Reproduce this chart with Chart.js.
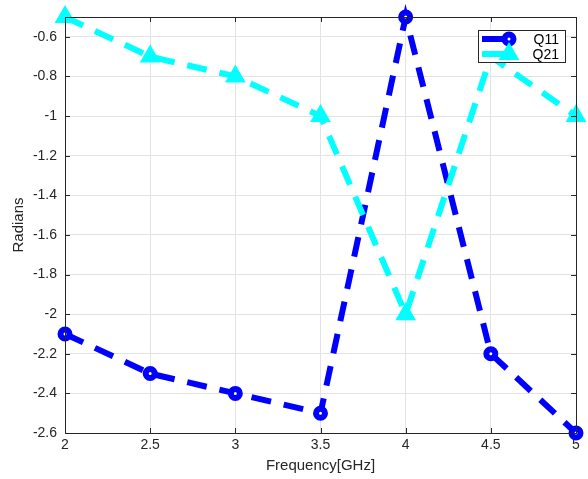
<!DOCTYPE html>
<html>
<head>
<meta charset="utf-8">
<script src="https://cdn.jsdelivr.net/npm/chart.js@4.4.0/dist/chart.umd.min.js"></script>
<style>
  html, body { margin: 0; padding: 0; background: #fff; }
  #wrap { width: 588px; height: 479px; }
</style>
</head>
<body>
<div id="wrap"><canvas id="c" width="588" height="479"></canvas></div>
<script>
// Frequencies (GHz) and phase values
const freqs = [2, 2.5, 3, 3.5, 4, 4.5, 5];
const q11 = [-2.1, -2.3, -2.4, -2.5, -0.5, -2.2, -2.6];
const q21 = [-0.5, -0.7, -0.8, -1.0, -2.0, -0.7, -1.0];

const xTicks = [2, 2.5, 3, 3.5, 4, 4.5, 5];
const yTicks = [-2.6, -2.4, -2.2, -2, -1.8, -1.6, -1.4, -1.2, -1, -0.8, -0.6];

const AXIS = '#262626';
const FONT = '"Liberation Sans", Arial, sans-serif';

function toPoints(xs, ys) {
  return xs.map((x, i) => ({ x, y: ys[i] }));
}

// Box around the plot with inward ticks on all four sides, matlab style
const boxPlugin = {
  id: 'box',
  afterDatasetsDraw(chart) {
    const { ctx, chartArea: a, scales } = chart;
    ctx.save();
    ctx.strokeStyle = AXIS;
    ctx.lineWidth = 1;
    ctx.strokeRect(a.left + 0.5, a.top + 0.5, a.right - a.left, a.bottom - a.top);
    const t = 5;
    ctx.beginPath();
    xTicks.forEach(v => {
      const px = Math.round(scales.x.getPixelForValue(v)) + 0.5;
      ctx.moveTo(px, a.bottom); ctx.lineTo(px, a.bottom - t);
      ctx.moveTo(px, a.top); ctx.lineTo(px, a.top + t);
    });
    yTicks.forEach(v => {
      const py = Math.round(scales.y.getPixelForValue(v)) + 0.5;
      ctx.moveTo(a.left, py); ctx.lineTo(a.left + t, py);
      ctx.moveTo(a.right, py); ctx.lineTo(a.right - t, py);
    });
    ctx.stroke();
    ctx.restore();
  }
};

// Legend drawn like the original: thick line segment with the marker at its end
const legendPlugin = {
  id: 'boxLegend',
  afterDraw(chart) {
    const { ctx } = chart;
    const x0 = 478, y0 = 30, w = 87, h = 32;
    ctx.save();
    ctx.fillStyle = '#fff';
    ctx.fillRect(x0, y0, w, h);
    ctx.strokeStyle = '#262626';
    ctx.lineWidth = 1;
    ctx.strokeRect(x0 + 0.5, y0 + 0.5, w, h);
    chart.data.datasets.forEach((ds, i) => {
      const y = y0 + 9 + i * 15;
      ctx.strokeStyle = ds.borderColor;
      ctx.lineWidth = 6;
      ctx.beginPath();
      ctx.moveTo(x0 + 4, y);
      ctx.lineTo(x0 + 31, y);
      ctx.stroke();
      ctx.strokeStyle = ds.pointBorderColor;
      ctx.fillStyle = ds.pointBackgroundColor;
      ctx.lineWidth = ds.pointBorderWidth;
      Chart.helpers.drawPoint(ctx, {
        pointStyle: ds.pointStyle,
        radius: ds.pointRadius,
        borderWidth: ds.pointBorderWidth,
        rotation: 0
      }, x0 + 31, y);
      ctx.fillStyle = '#000';
      ctx.font = '14px ' + FONT;
      ctx.textAlign = 'right';
      ctx.textBaseline = 'middle';
      ctx.fillText(ds.label, x0 + w - 6, y + 1);
    });
    ctx.restore();
  }
};

const chart = new Chart(document.getElementById('c'), {
  type: 'line',
  data: {
    datasets: [
      {
        label: 'Q11',
        data: toPoints(freqs, q11),
        borderColor: '#0000ff',
        backgroundColor: '#ffffff',
        borderWidth: 6,
        borderDash: [20, 13],
        pointStyle: 'circle',
        pointRadius: 4.5,
        pointBorderWidth: 6,
        pointBorderColor: '#0000ff',
        pointBackgroundColor: '#ffffff',
        tension: 0,
        clip: false,
        order: 1
      },
      {
        label: 'Q21',
        data: toPoints(freqs, q21),
        borderColor: '#00ffff',
        backgroundColor: '#00ffff',
        borderWidth: 6,
        borderDash: [20, 13],
        pointStyle: 'triangle',
        pointRadius: 10,
        pointBorderWidth: 2,
        pointBorderColor: '#00ffff',
        pointBackgroundColor: '#00ffff',
        tension: 0,
        clip: false,
        order: 0
      }
    ]
  },
  options: {
    responsive: false,
    animation: false,
    layout: { padding: { top: 17, right: 10, left: 0, bottom: 0 } },
    plugins: {
      legend: { display: false },
      tooltip: { enabled: false }
    },
    scales: {
      x: {
        type: 'linear',
        min: 2,
        max: 5,
        afterBuildTicks: s => { s.ticks = xTicks.map(v => ({ value: v })); },
        afterFit: s => { s.height = 46; },
        grid: { color: '#e3e3e3', drawTicks: false },
        border: { display: false },
        ticks: {
          color: AXIS,
          font: { family: FONT, size: 14 },
          padding: 4,
          maxRotation: 0,
          callback: v => String(v)
        },
        title: {
          display: true,
          text: 'Frequency[GHz]',
          color: AXIS,
          font: { family: FONT, size: 15 },
          padding: { top: 0, bottom: 4 }
        }
      },
      y: {
        type: 'linear',
        min: -2.6,
        max: -0.5,
        afterBuildTicks: s => { s.ticks = yTicks.map(v => ({ value: v })); },
        afterFit: s => { s.width = 65; },
        grid: { color: '#e3e3e3', drawTicks: false },
        border: { display: false },
        ticks: {
          color: AXIS,
          font: { family: FONT, size: 14 },
          padding: 8,
          callback: v => String(Math.round(v * 10) / 10)
        },
        title: {
          display: true,
          text: 'Radians',
          color: AXIS,
          font: { family: FONT, size: 15 },
          padding: { top: 10, bottom: 0 }
        }
      }
    }
  },
  plugins: [boxPlugin, legendPlugin]
});
</script>
</body>
</html>
